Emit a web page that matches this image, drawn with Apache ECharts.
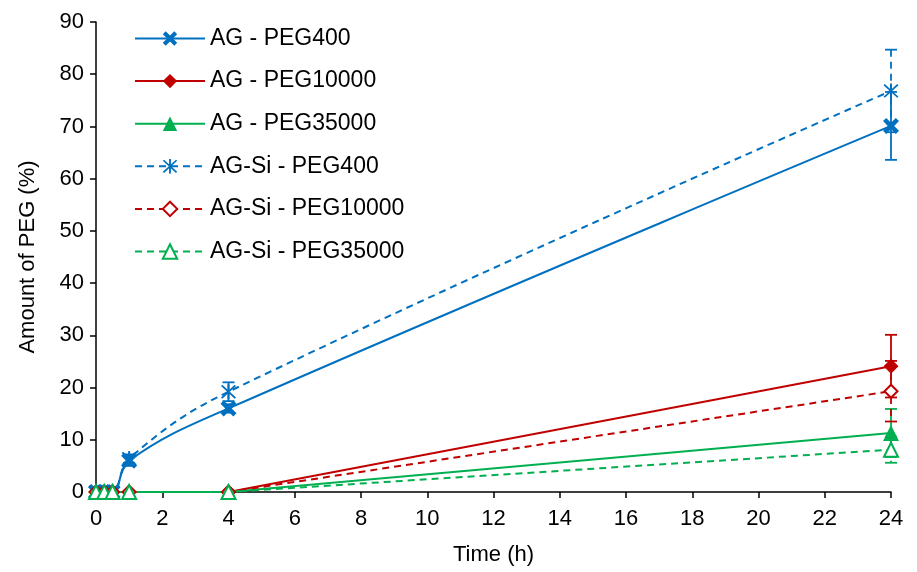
<!DOCTYPE html>
<html><head><meta charset="utf-8">
<script src="https://cdn.jsdelivr.net/npm/echarts@6/dist/echarts.min.js"></script>
<style>html,body{margin:0;padding:0;background:#fff}#c{width:917px;height:572px}</style>
</head><body><div id="c"></div>
<script>
const times = [0, 0.25, 0.5, 1, 4, 24];
const seriesNames = ['AG - PEG400','AG - PEG10000','AG - PEG35000','AG-Si - PEG400','AG-Si - PEG10000','AG-Si - PEG35000'];
const agPeg400      = [0, 0, 0, 6.0, 16.0, 70.1];
const agPeg10000    = [0, 0, 0, 0, 0, 24.1];
const agPeg35000    = [0, 0, 0, 0, 0, 11.3];
const agSiPeg400    = [0, 0, 0, 6.4, 19.2, 76.8];
const agSiPeg10000  = [0, 0, 0, 0, 0, 19.3];
const agSiPeg35000  = [0, 0, 0, 0, 0, 8.1];
const errAgPeg400     = [0, 0, 0, 1.0, 0.8, 6.5];
const errAgPeg10000   = [0, 0, 0, 0, 0, 6.0];
const errAgPeg35000   = [0, 0, 0, 0, 0, 4.6];
const errAgSiPeg400   = [0, 0, 0, 0.8, 1.8, 7.9];
const errAgSiPeg10000 = [0, 0, 0, 0, 0, 5.8];
const errAgSiPeg35000 = [0, 0, 0, 0, 0, 2.5];
const xTicks = [0,2,4,6,8,10,12,14,16,18,20,22,24];
const yTicks = [0,10,20,30,40,50,60,70,80,90];

const BLUE='#0070C0', RED='#C00000', GREEN='#00B050';
const FONT='Liberation Sans, Arial, sans-serif';
const xSym='path://M0,2 L2,0 L5,3 L8,0 L10,2 L7,5 L10,8 L8,10 L5,7 L2,10 L0,8 L3,5 Z';
const starSym='path://M4.4,0 L5.6,0 L5.6,10 L4.4,10 Z M0.4,1.2 L1.2,0.4 L9.6,8.8 L8.8,9.6 Z M8.8,0.4 L9.6,1.2 L1.2,9.6 L0.4,8.8 Z';
const DASH=[7,5];

const defs = [
  {name:seriesNames[0], vals:agPeg400, err:errAgPeg400, color:BLUE, dash:'solid', symbol:xSym, size:16, smooth:0.4},
  {name:seriesNames[1], vals:agPeg10000, err:errAgPeg10000, color:RED, dash:'solid', symbol:'diamond', size:15, smooth:false},
  {name:seriesNames[2], vals:agPeg35000, err:errAgPeg35000, color:GREEN, dash:'solid', symbol:'triangle', size:16, smooth:false},
  {name:seriesNames[3], vals:agSiPeg400, err:errAgSiPeg400, color:BLUE, dash:DASH, symbol:starSym, size:15, smooth:0.4},
  {name:seriesNames[4], vals:agSiPeg10000, err:errAgSiPeg10000, color:RED, dash:DASH, symbol:'emptyDiamond', size:13, smooth:false},
  {name:seriesNames[5], vals:agSiPeg35000, err:errAgSiPeg35000, color:GREEN, dash:DASH, symbol:'emptyTriangle', size:14, smooth:false}
];

const series = [];
defs.forEach(function(d){
  series.push({
    name:d.name, type:'line', smooth:d.smooth,
    data: times.map(function(t,i){return [t,d.vals[i]];}),
    symbol:d.symbol, symbolSize:d.size, showAllSymbol:true,
    lineStyle:{color:d.color, width:2, type:d.dash},
    itemStyle:{color:d.color, borderColor:d.color, borderWidth:d.symbol.indexOf('empty')===0?2:0},
    z:3
  });
  series.push({
    name:d.name+' err', type:'custom',
    data: times.map(function(t,i){return [t,d.vals[i],d.err[i]];}).filter(function(r){return r[2]>0;}),
    renderItem:function(params, api){
      const x=api.value(0), y=api.value(1), e=api.value(2);
      const top=api.coord([x,y+e]), bot=api.coord([x,y-e]);
      const hw=6;
      const st={stroke:d.color, lineWidth:1.8, lineDash: d.dash==='solid'?null:DASH};
      const capSt={stroke:d.color, lineWidth:1.8};
      return {type:'group', children:[
        {type:'line', shape:{x1:top[0],y1:top[1],x2:bot[0],y2:bot[1]}, style:st},
        {type:'line', shape:{x1:top[0]-hw,y1:top[1],x2:top[0]+hw,y2:top[1]}, style:capSt},
        {type:'line', shape:{x1:bot[0]-hw,y1:bot[1],x2:bot[0]+hw,y2:bot[1]}, style:capSt}
      ]};
    },
    z:2, silent:true
  });
});

const chart = echarts.init(document.getElementById('c'), null, {renderer:'canvas'});
chart.setOption({
  animation:false,
  backgroundColor:'#fff',
  textStyle:{fontFamily:FONT},
  grid:{left:96, right:26, top:22, bottom:80, containLabel:false},
  legend:{
    data:seriesNames, orient:'vertical', left:129, top:22,
    itemWidth:70, itemHeight:18, itemGap:19.6,
    textStyle:{fontSize:23, color:'#000', fontFamily:FONT, padding:[0,0,0,0]}
  },
  xAxis:{
    type:'value', min:0, max:24, interval:2,
    name:'Time (h)', nameLocation:'middle', nameGap:52,
    nameTextStyle:{fontSize:22, color:'#000', fontFamily:FONT},
    axisLine:{show:true, lineStyle:{color:'#000', width:1.5}},
    axisTick:{show:true, length:6, lineStyle:{color:'#000', width:1.5}},
    axisLabel:{fontSize:22, color:'#000', margin:16, fontFamily:FONT,
      formatter:function(v){return xTicks.indexOf(v)>=0?String(v):'';}},
    splitLine:{show:false}
  },
  yAxis:{
    type:'value', min:0, max:90, interval:10,
    name:'Amount of PEG (%)', nameLocation:'middle', nameGap:57, nameRotate:90,
    nameTextStyle:{fontSize:22, color:'#000', fontFamily:FONT},
    axisLine:{show:true, lineStyle:{color:'#000', width:1.5}},
    axisTick:{show:true, length:6, lineStyle:{color:'#000', width:1.5}},
    axisLabel:{fontSize:22, color:'#000', margin:12, fontFamily:FONT,
      formatter:function(v){return yTicks.indexOf(v)>=0?String(v):'';}},
    splitLine:{show:false}
  },
  series:series
});
</script></body></html>
